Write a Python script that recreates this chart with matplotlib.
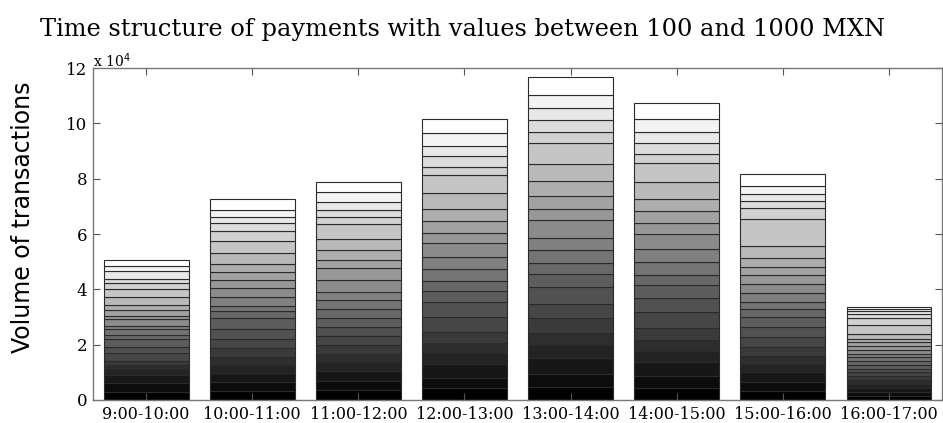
import numpy as np
import matplotlib
matplotlib.use('Agg')
import matplotlib.pyplot as plt
from matplotlib.ticker import FuncFormatter

# hour slots on the x axis
hours = ['9:00-10:00', '10:00-11:00', '11:00-12:00', '12:00-13:00',
         '13:00-14:00', '14:00-15:00', '15:00-16:00', '16:00-17:00']

# cumulative level of each stacked segment (x 10^4 transactions)
lev_09 = [0, 0.30, 0.60, 0.90, 1.11, 1.26, 1.42, 1.69, 1.93, 2.19, 2.36, 2.55,
          2.67, 2.93, 3.05, 3.24, 3.43, 3.73, 4.00, 4.24, 4.39, 4.67, 4.86, 5.06]
lev_10 = [0, 0.34, 0.66, 0.96, 1.26, 1.54, 1.87, 2.20, 2.57, 2.95, 3.23, 3.41,
          3.72, 4.04, 4.35, 4.63, 4.93, 5.30, 5.76, 6.11, 6.39, 6.63, 6.87, 7.25]
lev_11 = [0, 0.36, 0.70, 1.03, 1.36, 1.68, 2.00, 2.33, 2.65, 2.97, 3.28, 3.60,
          3.91, 4.34, 4.76, 5.06, 5.42, 5.81, 6.36, 6.60, 6.87, 7.17, 7.53, 7.89]
lev_12 = [0, 0.42, 0.81, 1.29, 1.69, 2.05, 2.47, 3.01, 3.53, 3.94, 4.31, 4.72,
          5.17, 5.69, 6.05, 6.48, 6.90, 7.47, 8.13, 8.43, 8.82, 9.18, 9.64, 10.14]
lev_13 = [0, 0.48, 0.95, 1.53, 1.98, 2.42, 2.95, 3.47, 4.07, 4.55, 4.96, 5.42,
          5.87, 6.50, 6.92, 7.36, 7.91, 8.52, 9.28, 9.70, 10.12, 10.54, 11.02, 11.66]
lev_14 = [0, 0.45, 0.86, 1.36, 1.78, 2.16, 2.60, 3.17, 3.70, 4.14, 4.53, 4.97,
          5.45, 6.00, 6.38, 6.84, 7.28, 7.88, 8.58, 8.90, 9.30, 9.68, 10.15, 10.72]
lev_15 = [0, 0.34, 0.66, 1.00, 1.30, 1.60, 1.93, 2.28, 2.65, 3.00, 3.30, 3.55,
          3.88, 4.20, 4.52, 4.80, 5.12, 5.55, 6.55, 6.95, 7.20, 7.45, 7.75, 8.17]
lev_16 = [0, 0.16, 0.30, 0.45, 0.58, 0.72, 0.85, 1.00, 1.12, 1.27, 1.40, 1.55,
          1.67, 1.82, 1.95, 2.08, 2.22, 2.38, 2.72, 2.98, 3.12, 3.22, 3.30, 3.36]

levels = np.array([lev_09, lev_10, lev_11, lev_12, lev_13, lev_14, lev_15, lev_16]) * 1e4
heights = np.diff(levels, axis=1)
nseg = heights.shape[1]
x = np.arange(1, len(hours) + 1)

fig = plt.figure(figsize=(9.43, 4.23), dpi=100)
ax = fig.add_axes([0.0986, 0.0544, 0.9004, 0.7848])

# one layer per value bin, black at the bottom to white at the top
for k in range(nseg):
    g = k / (nseg - 1)
    ax.bar(x, heights[:, k], 0.8, bottom=levels[:, k], color=(g, g, g),
           edgecolor='#2b2b2b', linewidth=0.8)

ax.set_xlim(0.5, 8.5)
ax.set_ylim(0, 12e4)
ax.set_xticks(x)
ax.set_xticklabels(hours, family='DejaVu Serif', fontsize=11.5)
ax.set_yticks(np.arange(0, 12.1e4, 2e4))
ax.yaxis.set_major_formatter(FuncFormatter(lambda v, p: '%d' % round(v / 1e4)))
for lab in ax.get_yticklabels():
    lab.set_family('DejaVu Serif')
    lab.set_fontsize(12)
ax.tick_params(direction='in', length=5, top=True, right=True, color='#555555', pad=4)
for s in ax.spines.values():
    s.set_color('#777777')
    s.set_linewidth(1.0)

ax.text(0.0, 0.995, r'x 10$^4$', transform=ax.transAxes, family='DejaVu Serif',
        fontsize=10, ha='left', va='bottom')
ax.set_ylabel('Volume of transactions', fontsize=17)
ax.yaxis.set_label_coords(-0.068, 0.551)
fig.text(0.49, 0.93, 'Time structure of payments with values between 100 and 1000 MXN',
         family='DejaVu Serif', fontsize=17.4, ha='center', va='center')

fig.savefig('out.png', dpi=100)
